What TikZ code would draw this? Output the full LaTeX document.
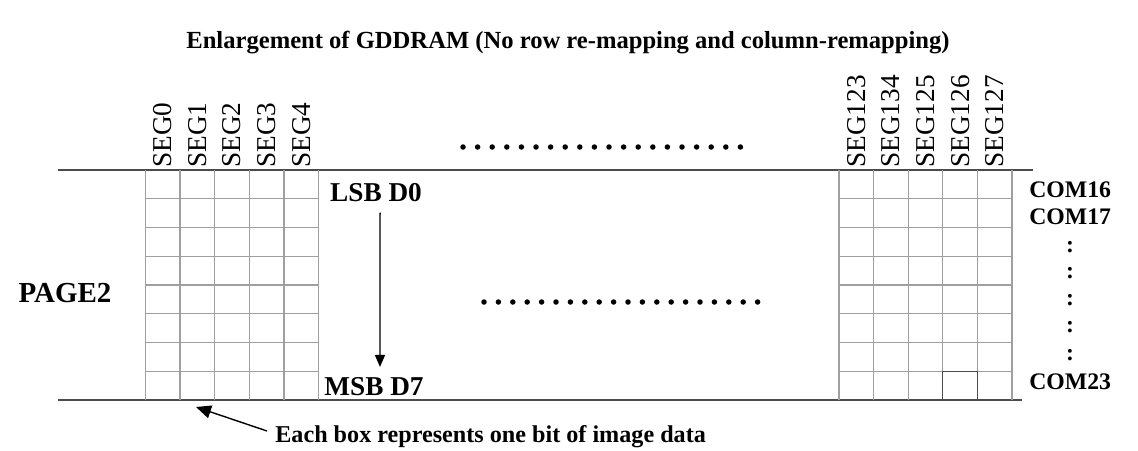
\documentclass[tikz,border=0pt]{standalone}
\usepackage{fontspec}
\setmainfont{Liberation Serif}
\usetikzlibrary{arrows.meta, positioning}

\begin{document}
\begin{tikzpicture}[x=0.02cm, y=-0.02cm,
    cell/.style={draw=gray!75, line width=0.7pt},
    rule/.style={draw=black!70, line width=1.1pt},
    seglabel/.style={rotate=90, anchor=west, inner sep=0pt, font=\fontsize{15.5}{16}\selectfont},
    boldlabel/.style={font=\bfseries\fontsize{13.5}{14}\selectfont, inner sep=0pt},
    biglabel/.style={font=\bfseries\fontsize{15.5}{16}\selectfont, inner sep=0pt},
    arr/.style={-{Triangle[length=2.4mm, width=2mm]}, line width=0.8pt}
]
\useasboundingbox (0,0) rectangle (1138,450);

\node[boldlabel, font=\bfseries\fontsize{14}{15}\selectfont] (title) at (568,43) {Enlargement of GDDRAM (No row re-mapping and column-remapping)};

% the two rails of the page
\draw[rule] (58,170) -- (1033,170);
\draw[rule] (58,400) -- (1022,400);

% bit cells
\foreach \gx in {145.5, 839} {
  \foreach \i in {0,...,5}
    \draw[cell] (\gx+\i*34.6,170) -- (\gx+\i*34.6,400);
  \foreach \j in {1,...,7}
    \draw[cell] (\gx,170+\j*28.75) -- (\gx+173,170+\j*28.75);
}
\draw[draw=black!70, line width=0.7pt] (942.8,400) -- (942.8,371.25) -- (977.4,371.25) -- (977.4,400);

% column labels
\foreach \s [count=\i from 0] in {SEG0,SEG1,SEG2,SEG3,SEG4}
  \node[seglabel] (seg\i) at (162.8+\i*34.6,168) {\s};
\foreach \s [count=\i from 0] in {SEG123,SEG134,SEG125,SEG126,SEG127}
  \node[seglabel] (segr\i) at (856.3+\i*34.6,168) {\s};

% dots
\foreach \i in {0,...,19} {
  \fill (463+\i*14.6,147) circle[radius=0.055cm];
  \fill (484+\i*14.4,302) circle[radius=0.055cm];
}

\node[biglabel, font=\bfseries\fontsize{16.5}{17}\selectfont] (page) at (65,293) {PAGE2};

\node[biglabel] (lsb) at (376,193) {LSB D0};
\node[biglabel] (msb) at (374,387) {MSB D7};
\draw[arr] ([xshift=2.3pt, yshift=-5.7pt]lsb.south) -- ([xshift=3.4pt, yshift=6pt]msb.north);

\node[boldlabel, anchor=west] (com16) at (1029,190) {COM16};
\node[boldlabel, anchor=west] (com17) at (1029,217) {COM17};
\node[boldlabel, anchor=west] (com23) at (1029,382) {COM23};
\foreach \y [count=\k] in {247,273,300,327,355}
  \node[boldlabel] (dots\k) at (1070,\y) {:};

\node[boldlabel, font=\bfseries\fontsize{13.75}{14}\selectfont, anchor=west] (note) at (275,437) {Each box represents one bit of image data};
\coordinate (bit) at (196,407);
\draw[arr, -{Triangle[length=3mm, width=2.6mm]}] ([shift={(-8,-6)}]note.west) -- (bit);
\end{tikzpicture}
\end{document}
